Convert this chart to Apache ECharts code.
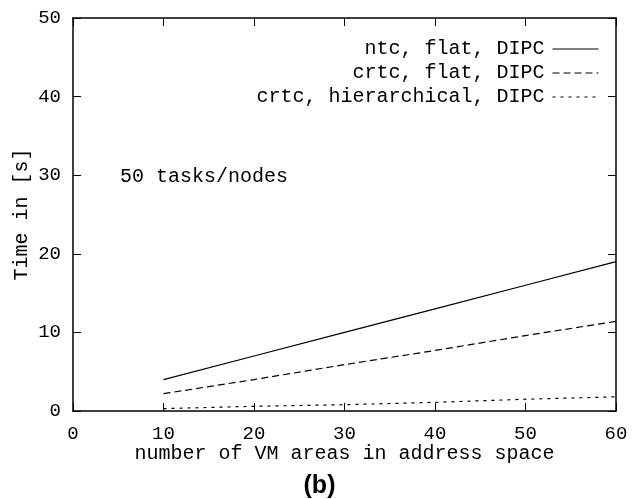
<!DOCTYPE html>
<html>
<head>
<meta charset="utf-8">
<script src="https://cdn.jsdelivr.net/npm/echarts@6/dist/echarts.min.js"></script>
<style>
  html, body { margin: 0; padding: 0; background: #fff; }
  #chart { width: 639px; height: 499px; }
</style>
</head>
<body>
<div id="chart"></div>
<script>
// VM area counts on the x axis
const vmAreas = [10, 20, 30, 40, 50, 60];

// Measured times in seconds, 50 tasks/nodes
const ntcFlat = [4.0, 7.0, 10.0, 13.0, 16.0, 19.0];
const crtcFlat = [2.2, 4.0, 5.9, 7.7, 9.6, 11.4];
const crtcHier = [0.3, 0.6, 0.8, 1.1, 1.5, 1.8];

const seriesNames = ['ntc, flat, DIPC', 'crtc, flat, DIPC', 'crtc, hierarchical, DIPC'];

const mono = 'Liberation Mono, DejaVu Sans Mono, monospace';
const fsTick = 19;
const fs = 20;

function pairs(ys) { return vmAreas.map((x, i) => [x, ys[i]]); }

const axisLine = { show: true, onZero: false, lineStyle: { color: '#000', width: 1.5 } };
const tickIn = { show: true, inside: true, length: 8, lineStyle: { color: '#000', width: 1 } };

const chart = echarts.init(document.getElementById('chart'));
chart.setOption({
  animation: false,
  backgroundColor: '#fff',
  grid: { left: 73, right: 23, top: 18, bottom: 88, containLabel: false },
  xAxis: [{
    type: 'value', position: 'bottom', min: 0, max: 60, interval: 10,
    axisLine, axisTick: tickIn,
    axisLabel: { color: '#000', fontFamily: mono, fontSize: fsTick, margin: 13 },
    splitLine: { show: false },
    name: 'number of VM areas in address space',
    nameLocation: 'middle', nameGap: 33, nameMoveOverlap: false,
    nameTextStyle: { color: '#000', fontFamily: mono, fontSize: fs }
  }, {
    type: 'value', position: 'top', min: 0, max: 60, interval: 10,
    axisLine, axisTick: tickIn, axisLabel: { show: false }, splitLine: { show: false }
  }],
  yAxis: [{
    type: 'value', position: 'left', min: 0, max: 50, interval: 10,
    axisLine, axisTick: tickIn,
    axisLabel: { color: '#000', fontFamily: mono, fontSize: fsTick, margin: 12 },
    splitLine: { show: false },
    name: 'Time in [s]',
    nameLocation: 'middle', nameGap: 41, nameRotate: 90, nameMoveOverlap: false,
    nameTextStyle: { color: '#000', fontFamily: mono, fontSize: fs }
  }, {
    type: 'value', position: 'right', min: 0, max: 50, interval: 10,
    axisLine, axisTick: tickIn, axisLabel: { show: false }, splitLine: { show: false }
  }],
  legend: {
    orient: 'vertical', right: 35, top: 34, align: 'right',
    itemWidth: 46, itemHeight: 14, itemGap: 4,
    itemStyle: { opacity: 0 },
    lineStyle: { width: 1 },
    textStyle: { color: '#000', fontFamily: mono, fontSize: fs, padding: [0, 3, 0, 0] },
    data: seriesNames
  },
  graphic: [
    {
      type: 'text', left: 120, top: 167,
      style: { text: '50 tasks/nodes', fill: '#000', font: fs + 'px ' + mono }
    },
    {
      type: 'text', left: 'center', top: 474,
      style: { text: '(b)', fill: '#000', font: 'bold 25px Liberation Sans, Arial, sans-serif' }
    }
  ],
  series: [
    {
      name: seriesNames[0], type: 'line', data: pairs(ntcFlat), symbol: 'none',
      lineStyle: { color: '#000', width: 1.2, type: 'solid' }, itemStyle: { color: '#000' }
    },
    {
      name: seriesNames[1], type: 'line', data: pairs(crtcFlat), symbol: 'none',
      lineStyle: { color: '#000', width: 1.2, type: [7, 4] }, itemStyle: { color: '#000' }
    },
    {
      name: seriesNames[2], type: 'line', data: pairs(crtcHier), symbol: 'none',
      lineStyle: { color: '#000', width: 1.2, type: [3, 5] }, itemStyle: { color: '#000' }
    }
  ]
});
</script>
</body>
</html>
